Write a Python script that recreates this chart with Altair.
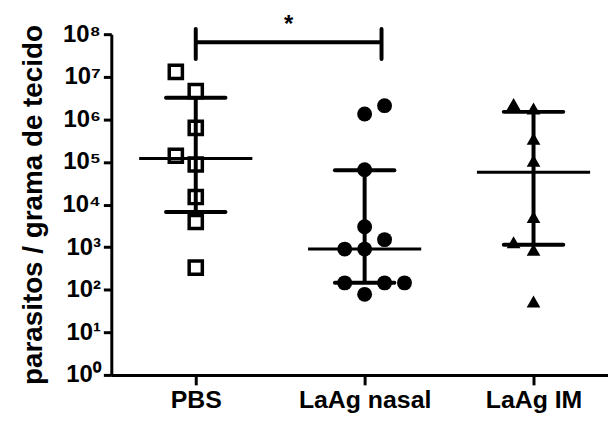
import json
import altair as alt
import pandas as pd

# ---- data ----
groups = ["PBS", "LaAg nasal", "LaAg IM"]

pbs_values = [1.3e7, 4.6e6, 6.3e5, 1.4e5, 8.7e4, 1.5e4, 3.9e3, 330]
pbs_slots = [-1, 0, 0, -1, 0, 0, 0, 0]

nasal_values = [2.1e6, 1.34e6, 6.6e4, 3.0e3, 1.5e3, 900, 900, 145, 145, 145, 78]
nasal_slots = [1, 0, 0, 0, 1, -1, 0, -1, 1, 2, 0]

im_values = [2.3e6, 1.8e6, 3.5e5, 1.07e5, 5.1e3, 1.3e3, 870, 53]
im_slots = [-1, 0, 0, 0, 0, -1, 0, 0]

medians = [1.2e5, 900, 5.7e4]
q1s = [6.7e3, 145, 1.14e3]
q3s = [3.2e6, 6.4e4, 1.5e6]

y_ticks = [1, 10, 100, 1e3, 1e4, 1e5, 1e6, 1e7, 1e8]
superscripts = ["⁰", "¹", "²", "³", "⁴", "⁵", "⁶", "⁷", "⁸"]

sig_pair = [1.0, 2.1]          # bracket ends (group index units)
sig_level = 10 ** 7.81
sig_tick_lo, sig_tick_hi = 10 ** 7.42, 10 ** 8.12
sig_label = "*"
sig_label_y = 10 ** 8.06

# ---- build tables ----
rows = []
for gi, (vals, slots) in enumerate([(pbs_values, pbs_slots),
                                    (nasal_values, nasal_slots),
                                    (im_values, im_slots)], start=1):
    for v, s in zip(vals, slots):
        rows.append({"group": groups[gi - 1], "gi": gi, "value": v, "slot": s})
pts = pd.DataFrame(rows)

summ = pd.DataFrame({
    "group": groups,
    "gi": [1, 2, 3],
    "median": medians,
    "q1": q1s,
    "q3": q3s,
})

FONT = "Liberation Sans"
JIT = 0.118
MED_HW = 0.335
CAP_HW = 0.176

xscale = alt.Scale(domain=[0.5, 3.441], nice=False, zero=False)
yscale = alt.Scale(type="log", domain=[1, 1e8], nice=False)

label_expr_x = json.dumps(groups) + "[datum.value - 1]"
label_expr_y = "'10' + " + json.dumps(superscripts, ensure_ascii=False) + "[round(log(datum.value) / LN10)]"

x_axis = alt.Axis(values=[1, 2, 3], labelExpr=label_expr_x, grid=False,
                  tickSize=10, tickWidth=3, tickColor="black",
                  domainColor="black", domainWidth=3,
                  labelFont=FONT, labelFontWeight="bold", labelFontSize=25,
                  labelColor="black", labelPadding=3)
y_axis = alt.Axis(values=y_ticks, labelExpr=label_expr_y, grid=False,
                  tickSize=8, tickWidth=3, tickColor="black",
                  domainColor="black", domainWidth=3,
                  labelFont=FONT, labelFontWeight="bold", labelFontSize=24,
                  labelColor="black", labelPadding=3,
                  title="parasitos / grama de tecido",
                  titleFont=FONT, titleFontWeight="bold", titleFontSize=28,
                  titleColor="black", titlePadding=15)

base_pts = alt.Chart(pts).transform_calculate(
    xp="datum.gi + datum.slot * " + str(JIT)
)

sq = base_pts.transform_filter(alt.datum.gi == 1).mark_point(
    shape="square", filled=False, stroke="black", strokeWidth=3.5, size=175, opacity=1
).encode(
    x=alt.X("xp:Q", scale=xscale, axis=x_axis, title=None),
    y=alt.Y("value:Q", scale=yscale, axis=y_axis),
)
circ = base_pts.transform_filter(alt.datum.gi == 2).mark_point(
    shape="circle", filled=True, color="black", size=225, opacity=1
).encode(x=alt.X("xp:Q", scale=xscale), y=alt.Y("value:Q", scale=yscale))
tri = base_pts.transform_filter(alt.datum.gi == 3).mark_point(
    shape="triangle-up", filled=True, color="black", size=190, opacity=1
).encode(x=alt.X("xp:Q", scale=xscale), y=alt.Y("value:Q", scale=yscale))

base_s = alt.Chart(summ).transform_calculate(
    m0="datum.gi - " + str(MED_HW), m1="datum.gi + " + str(MED_HW),
    c0="datum.gi - " + str(CAP_HW), c1="datum.gi + " + str(CAP_HW),
)
med = base_s.mark_rule(color="black", strokeWidth=3).encode(
    x=alt.X("m0:Q", scale=xscale), x2="m1:Q", y=alt.Y("median:Q", scale=yscale))
cap_hi = base_s.mark_rule(color="black", strokeWidth=4, strokeCap="round").encode(
    x=alt.X("c0:Q", scale=xscale), x2="c1:Q", y=alt.Y("q3:Q", scale=yscale))
cap_lo = base_s.mark_rule(color="black", strokeWidth=4, strokeCap="round").encode(
    x=alt.X("c0:Q", scale=xscale), x2="c1:Q", y=alt.Y("q1:Q", scale=yscale))
vert = base_s.mark_rule(color="black", strokeWidth=4).encode(
    x=alt.X("gi:Q", scale=xscale), y=alt.Y("q1:Q", scale=yscale), y2="q3:Q")

br = pd.DataFrame({"x0": [sig_pair[0]], "x1": [sig_pair[1]], "y": [sig_level],
                   "lo": [sig_tick_lo], "hi": [sig_tick_hi],
                   "xm": [sum(sig_pair) / 2 - 0.0], "label": [sig_label],
                   "ty": [sig_label_y]})
br_h = alt.Chart(br).mark_rule(color="black", strokeWidth=4).encode(
    x=alt.X("x0:Q", scale=xscale), x2="x1:Q", y=alt.Y("y:Q", scale=yscale))
br_l = alt.Chart(br).mark_rule(color="black", strokeWidth=4, strokeCap="round").encode(
    x=alt.X("x0:Q", scale=xscale), y=alt.Y("lo:Q", scale=yscale), y2="hi:Q")
br_r = alt.Chart(br).mark_rule(color="black", strokeWidth=4, strokeCap="round").encode(
    x=alt.X("x1:Q", scale=xscale), y=alt.Y("lo:Q", scale=yscale), y2="hi:Q")
star = alt.Chart(br).mark_text(font=FONT, fontWeight="bold", fontSize=24,
                               baseline="alphabetic", align="center", color="black").encode(
    x=alt.X("xm:Q", scale=xscale), y=alt.Y("ty:Q", scale=yscale), text="label:N")

chart = alt.layer(sq, circ, tri, med, cap_hi, cap_lo, vert, br_h, br_l, br_r, star).properties(
    width=500, height=343,
    autosize=alt.AutoSizeParams(type="none"),
    padding={"left": 104, "top": 25, "right": 0, "bottom": 40},
    background="white",
).configure_view(strokeWidth=0)

chart.save("out.html", embed_options={"renderer": "svg", "actions": False})
